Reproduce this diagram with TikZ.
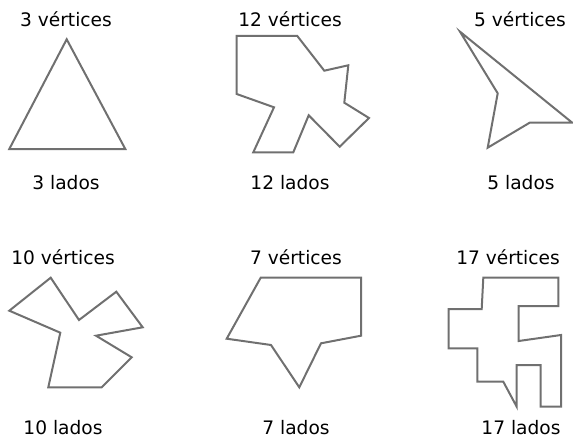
\documentclass[tikz,border=0pt]{standalone}
\usepackage{fontspec}
\setmainfont{DejaVu Sans}
\usepackage{tikz}
\definecolor{polygray}{RGB}{112,112,112}

\begin{document}
\begin{tikzpicture}[
  x=1pt, y=-1pt,
  lbl/.style={inner sep=0pt, anchor=base, font=\fontsize{18.6}{22}\selectfont},
  poly/.style={draw=polygray, line width=2pt, line join=miter}
]
\useasboundingbox (0,0) rectangle (573,436);

% Labels, first row
\node[lbl] (v1) at (66,26.5) {3 vértices};
\node[lbl] (l1) at (66,189.5) {3 lados};
\node[lbl] (v2) at (290,26.5) {12 vértices};
\node[lbl] (l2) at (290,189.5) {12 lados};
\node[lbl] (v3) at (520,26.5) {5 vértices};
\node[lbl] (l3) at (521,189.5) {5 lados};

% Labels, second row
\node[lbl] (v4) at (63,264) {10 vértices};
\node[lbl] (l4) at (63,434) {10 lados};
\node[lbl] (v5) at (296,264) {7 vértices};
\node[lbl] (l5) at (296,434) {7 lados};
\node[lbl] (v6) at (508,264) {17 vértices};
\node[lbl] (l6) at (521,434) {17 lados};

% Polygons
\draw[poly] (66.7,39.3) -- (125.3,149) -- (9.3,149) -- cycle;
\draw[poly] (236.7,36) -- (297.3,36) -- (324.3,70.7) -- (348.3,65.3) -- (344.3,102.7)
  -- (369,118) -- (339.7,146.7) -- (308.7,115.3) -- (293.3,152.3) -- (253.3,152.3)
  -- (274,107.3) -- (236.7,94) -- cycle;
\draw[poly] (460,31.7) -- (572,122.5) -- (530,122.5) -- (487.7,147.7) -- (497.7,93.3) -- cycle;
\draw[poly] (50.7,277.7) -- (79,320) -- (116.3,291.7) -- (142.7,327.3) -- (96,335.7)
  -- (131.7,357.3) -- (101.7,387.3) -- (48.3,387.3) -- (60.3,332.7) -- (9.3,310.7) -- cycle;
\draw[poly] (260.7,277.7) -- (361,277.7) -- (361,335.7) -- (321,343.3) -- (299.3,387.3)
  -- (271,345) -- (226.7,338.7) -- cycle;
\draw[poly] (483.3,277.7) -- (558.3,277.7) -- (558.3,306) -- (518.7,306) -- (518.7,341)
  -- (561,335) -- (561,406.7) -- (540.7,406.7) -- (540.7,365) -- (516.7,365)
  -- (516.7,406.7) -- (503.3,381.7) -- (477.3,381.7) -- (477.3,348.3) -- (448.7,348.3)
  -- (448.7,309) -- (481.7,309) -- cycle;
\end{tikzpicture}
\end{document}
